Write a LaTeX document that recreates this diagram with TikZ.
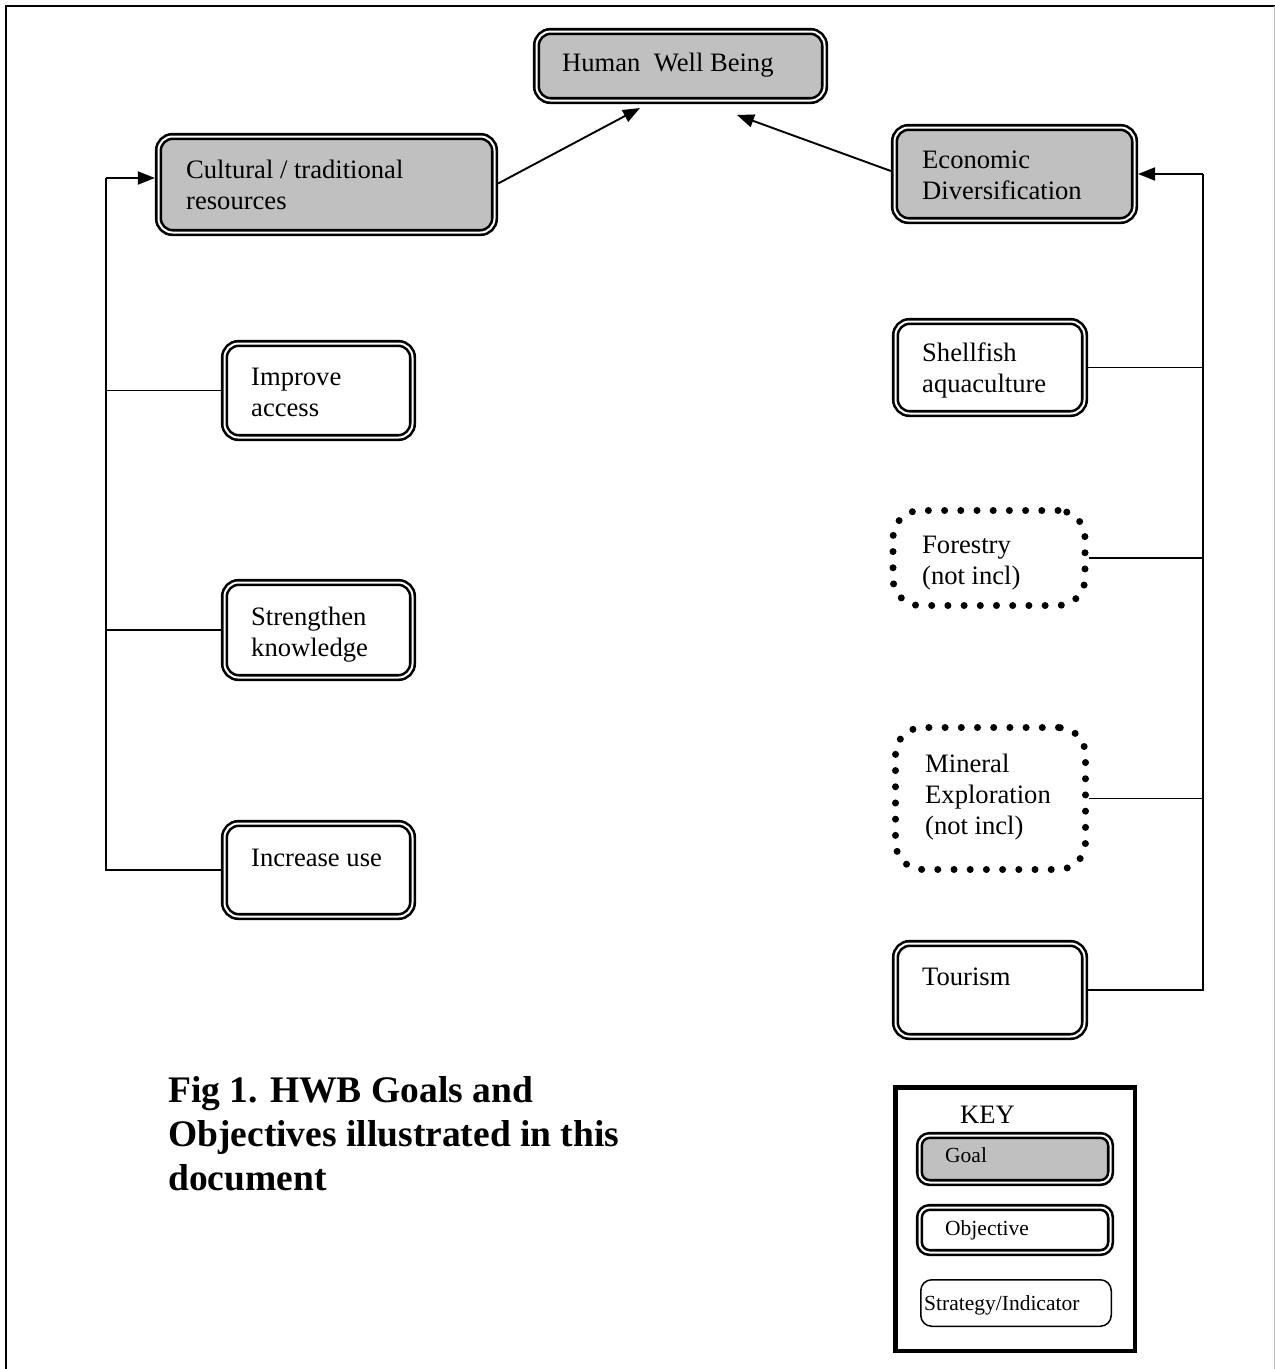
\documentclass[tikz,border=0pt]{standalone}
\usepackage{fontspec}
\setmainfont{Liberation Serif}
\usetikzlibrary{arrows.meta}
\definecolor{goalgray}{HTML}{C0C0C0}
\newcommand{\lns}[1]{\begin{tabular}[t]{@{}l@{}}#1\end{tabular}}
\begin{document}
\begin{tikzpicture}[x=1pt,y=-1pt,
  dbl/.style={draw, double, double distance=2pt, line width=2.6pt,
    rounded corners=14pt, inner sep=0pt, outer sep=3.6pt, fill=white},
  goalbox/.style={dbl, fill=goalgray},
  objbox/.style={dbl},
  dotbox/.style={draw, line width=7pt, dash pattern=on 0pt off 16.2pt,
    line cap=round, rounded corners=27pt, inner sep=0pt},
  stratbox/.style={draw, line width=1.5pt, rounded corners=11pt, inner sep=0pt},
  keyframe/.style={draw, line width=4.5pt, inner sep=0pt},
  txt/.style={font=\fontsize{26.6}{31}\selectfont, inner sep=0pt, anchor=base west},
  smalltxt/.style={font=\fontsize{21.5}{25}\selectfont, inner sep=0pt, anchor=base west},
  headtxt/.style={font=\bfseries\fontsize{37.5}{44}\selectfont, inner sep=0pt, anchor=base west},
  conn/.style={line width=1.9pt},
  arr/.style={conn, -{Triangle[length=17pt,width=13pt]}}]

\useasboundingbox (0,0) rectangle (1275,1369);

% page frame
\draw[line width=2.8pt] (6,1369) -- (6,6) -- (1275,6);
\draw[line width=1pt, black!25] (1274.5,6) -- (1274.5,1369);

% goals
\node[goalbox, minimum width=288pt, minimum height=69pt] (hwb) at (680.5,66) {};
\node[txt] (hwbt) at (562,71) {Human\ \ Well Being};

\node[goalbox, minimum width=336pt, minimum height=96pt] (cult) at (326.5,184.5) {};
\node[txt] (cultt) at (186,178) {\lns{Cultural / traditional\\resources}};

\node[goalbox, minimum width=240pt, minimum height=93pt] (econ) at (1014.5,174) {};
\node[txt] (econt) at (922,168) {\lns{Economic\\Diversification}};

% objectives, cultural side
\node[objbox, minimum width=188pt, minimum height=94pt] (impr) at (318.5,390.5) {};
\node[txt] (imprt) at (251,385) {\lns{Improve\\access}};

\node[objbox, minimum width=188pt, minimum height=95pt] (stren) at (318.5,630) {};
\node[txt] (strent) at (251,625) {\lns{Strengthen\\knowledge}};

\node[objbox, minimum width=188pt, minimum height=93pt] (incr) at (318.5,870) {};
\node[txt] (incrt) at (251,866) {Increase use};

% objectives, economic side
\node[objbox, minimum width=189pt, minimum height=92pt] (shell) at (990,367.5) {};
\node[txt] (shellt) at (922,361) {\lns{Shellfish\\aquaculture}};

\node[dotbox, minimum width=192pt, minimum height=95pt] (forest) at (989,558) {};
\node[txt] (forestt) at (922,553) {\lns{Forestry\\(not incl)}};

\node[dotbox, minimum width=190pt, minimum height=142pt] (miner) at (990.5,798.5) {};
\node[txt] (minert) at (925,772) {\lns{Mineral\\Exploration\\(not incl)}};

\node[objbox, minimum width=189pt, minimum height=93pt] (tour) at (990,990) {};
\node[txt] (tourt) at (922,985) {Tourism};

% connectors
\coordinate (lt) at (106,178);
\coordinate (rt) at (1203,174);
\coordinate (hwbL) at (640,108);
\coordinate (hwbR) at (737,115);

\draw[conn] (incr.west) -| (lt);
\draw[conn] (impr.west) -- (impr.west -| lt);
\draw[conn] (stren.west) -- (stren.west -| lt);
\draw[arr] (lt) -- (lt -| cult.west);

\draw[conn] (tour.east) -| (rt);
\draw[conn] (shell.east) -- (shell.east -| rt);
\draw[conn] (forest.east) -- (forest.east -| rt);
\draw[conn] (miner.east) -- (miner.east -| rt);
\draw[arr] (rt) -- (econ.east);

\draw[arr] ([yshift=1pt]cult.east) -- (hwbL);
\draw[arr] ([yshift=3pt]econ.west) -- (hwbR);

% caption
\node[headtxt] (cap) at (168,1102) {\begin{tabular}[t]{@{}l@{}}Fig 1. HWB Goals and\\Objectives illustrated in this\\document\end{tabular}};

% key
\node[keyframe, minimum width=239.5pt, minimum height=263.5pt] (key) at (1015,1219) {};
\node[txt] (keyt) at (960,1123) {KEY};
\node[goalbox, rounded corners=10pt, minimum width=191pt, minimum height=47pt] (kgoal) at (1015,1159) {};
\node[smalltxt] (kgoalt) at (945,1162) {Goal};
\node[objbox, rounded corners=10pt, minimum width=191pt, minimum height=45pt] (kobj) at (1015,1230) {};
\node[smalltxt] (kobjt) at (945,1235) {Objective};
\node[stratbox, minimum width=190.5pt, minimum height=46.5pt] (kstrat) at (1016,1303) {};
\node[smalltxt] (kstratt) at (924,1310) {Strategy/Indicator};

\end{tikzpicture}
\end{document}
